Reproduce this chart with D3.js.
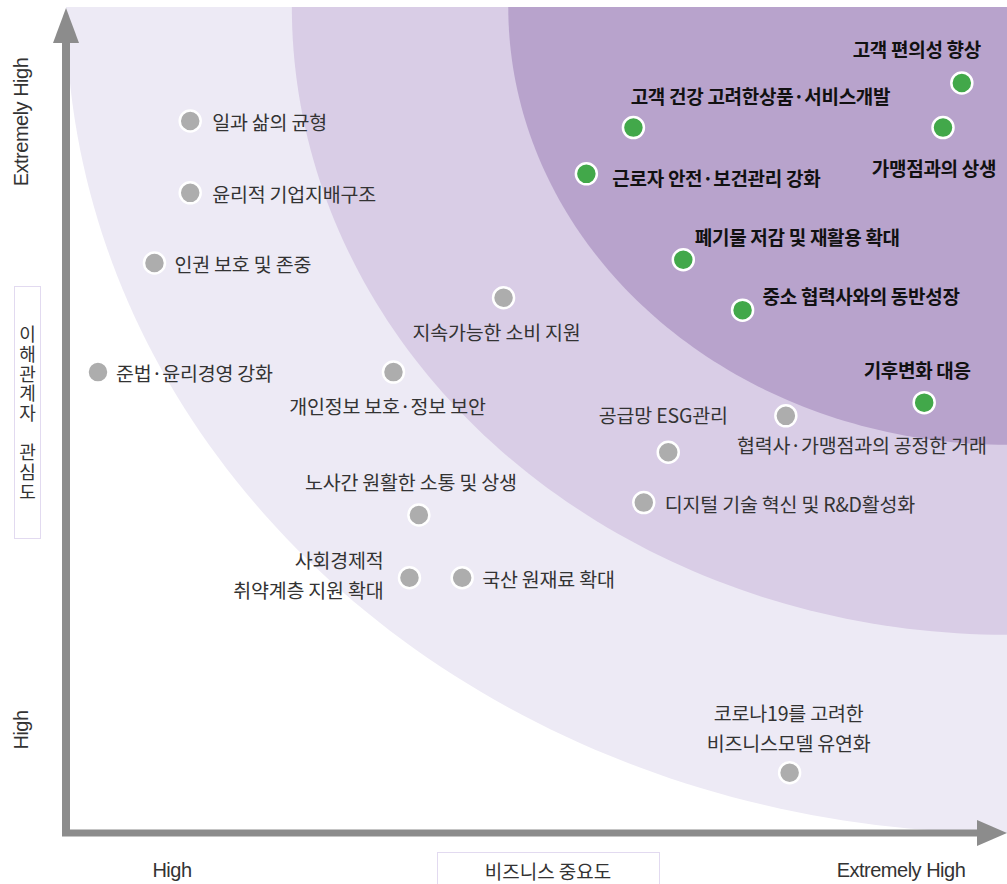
<!DOCTYPE html>
<html>
<head>
<meta charset="utf-8">
<script src="https://cdn.jsdelivr.net/npm/d3@7"></script>
<style>
  html, body { margin: 0; padding: 0; background: #fff; }
  svg { display: block; }
  .lbl { font-family: "Noto Sans CJK KR", "Noto Sans", sans-serif; font-size: 19.5px; fill: #333; letter-spacing: -0.2px; }
  .lbl.key { font-weight: bold; font-size: 19px; fill: #111; letter-spacing: -0.3px; }
  .axlbl { font-family: "Liberation Sans", Arial, sans-serif; font-size: 20px; fill: #333; letter-spacing: -0.5px; }
  .ttl { font-family: "Noto Sans CJK KR", sans-serif; font-size: 18px; fill: #333; }
  .vttl { writing-mode: vertical-rl; text-orientation: upright; letter-spacing: 1.7px; }
</style>
</head>
<body>
<div id="chart"></div>
<script>
// scores on a 0–100 scale (x: business importance, y: stakeholder interest)
const issues = [
  "일과 삶의 균형", "윤리적 기업지배구조", "인권 보호 및 존중", "준법·윤리경영 강화",
  "지속가능한 소비 지원", "개인정보 보호·정보 보안", "공급망 ESG관리",
  "협력사·가맹점과의 공정한 거래", "디지털 기술 혁신 및 R&D활성화",
  "노사간 원활한 소통 및 상생", "사회경제적\n취약계층 지원 확대", "국산 원재료 확대",
  "코로나19를 고려한\n비즈니스모델 유연화",
  "고객 편의성 향상", "고객 건강 고려한상품·서비스개발", "가맹점과의 상생",
  "근로자 안전·보건관리 강화", "폐기물 저감 및 재활용 확대",
  "중소 협력사와의 동반성장", "기후변화 대응"
];
const businessScore = [13.2, 13.2, 9.4, 3.4, 46.5, 34.8, 64.0, 76.5, 61.4, 37.5, 36.5, 42.1, 76.9,
                       95.2, 60.3, 93.2, 55.3, 65.6, 71.9, 91.2];
const stakeholderScore = [86.2, 77.5, 69.0, 55.8, 64.8, 55.8, 46.1, 50.5, 40.0, 38.5, 30.9, 30.9, 7.3,
                          90.8, 85.4, 85.4, 79.8, 69.4, 63.3, 52.1];
const isMaterial = [false, false, false, false, false, false, false, false, false, false, false, false, false,
                    true, true, true, true, true, true, true];
const bandRadii = [100, 76, 53];
const axisTicks = ["High", "Extremely High"];

// label placement (offset from the marker, text anchor)
const labelPlace = [
  [22, 0, "start"], [22, 0, "start"], [20, 0, "start"], [18, 0, "start"],
  [-7, 33, "middle"], [-6, 33, "middle"], [-5, -38, "middle"],
  [76, 28, "middle"], [21, 0, "start"],
  [-8, -34, "middle"], [-26, -19, "end"], [20, 0, "start"],
  [-1, -61, "middle"],
  [-45, -35, "middle"], [127, -33, "middle"], [-9, 39, "middle"],
  [26, 3, "start"], [114, -24, "middle"],
  [20, -15, "start"], [-7, -34, "middle"]
];

const width = 1007, height = 884;
const svg = d3.select("#chart").append("svg")
  .attr("width", width).attr("height", height);

const xScale = d3.scaleLinear().domain([0, 100]).range([66, 1007]);
const yScale = d3.scaleLinear().domain([0, 100]).range([833, 7]);

// importance bands: quarter rings around the top-right corner
const bandColors = ["#edeaf5", "#d9cde6", "#b8a3cc"];
const bandLine = d3.line().x(d => xScale(d[0])).y(d => yScale(d[1]));
bandRadii.forEach((r, i) => {
  const pts = [[100, 100]];
  for (let a = 0; a <= 90; a += 1) {
    const t = a * Math.PI / 180;
    pts.push([100 - r * Math.cos(t), 100 - r * Math.sin(t)]);
  }
  pts.push([100, 100]);
  svg.append("path")
    .attr("d", bandLine(pts) + "Z")
    .attr("fill", bandColors[i]);
});

// axes with arrowheads
const axisColor = "#8c8c8c";
svg.append("line")
  .attr("x1", xScale(0)).attr("y1", yScale(0) + 3)
  .attr("x2", xScale(0)).attr("y2", 40)
  .attr("stroke", axisColor).attr("stroke-width", 8);
svg.append("path")
  .attr("d", `M${xScale(0) - 13},43 L${xScale(0)},8 L${xScale(0) + 13},43 Z`)
  .attr("fill", axisColor);
svg.append("line")
  .attr("x1", xScale(0) - 4).attr("y1", yScale(0))
  .attr("x2", 980).attr("y2", yScale(0))
  .attr("stroke", axisColor).attr("stroke-width", 7);
svg.append("path")
  .attr("d", `M977,${yScale(0) - 13} L1007,${yScale(0)} L977,${yScale(0) + 13} Z`)
  .attr("fill", axisColor);

// axis end labels
svg.append("text").attr("class", "axlbl")
  .attr("transform", "translate(28,122) rotate(-90)")
  .attr("text-anchor", "middle").text(axisTicks[1]);
svg.append("text").attr("class", "axlbl")
  .attr("transform", "translate(28,730) rotate(-90)")
  .attr("text-anchor", "middle").text(axisTicks[0]);
svg.append("text").attr("class", "axlbl")
  .attr("x", 172).attr("y", 877).attr("text-anchor", "middle").text(axisTicks[0]);
svg.append("text").attr("class", "axlbl")
  .attr("x", 901).attr("y", 877).attr("text-anchor", "middle").text(axisTicks[1]);

// axis titles in boxes
svg.append("rect").attr("x", 14.5).attr("y", 286.5).attr("width", 26).attr("height", 252)
  .attr("fill", "#fff").attr("stroke", "#e2daf0");
svg.append("text").attr("class", "ttl vttl")
  .attr("x", 27.5).attr("y", 414)
  .attr("text-anchor", "middle")
  .text("이해관계자 관심도");
svg.append("rect").attr("x", 437.5).attr("y", 852.5).attr("width", 222).attr("height", 34)
  .attr("fill", "#fff").attr("stroke", "#e2daf0");
svg.append("text").attr("class", "ttl")
  .attr("x", 548).attr("y", 870).attr("text-anchor", "middle")
  .attr("dominant-baseline", "central").style("font-size", "19px").text("비즈니스 중요도");

// markers + labels
const data = issues.map((name, i) => ({
  name, x: businessScore[i], y: stakeholderScore[i], key: isMaterial[i], place: labelPlace[i]
}));

const g = svg.append("g");
g.selectAll("circle").data(data).enter().append("circle")
  .attr("cx", d => xScale(d.x)).attr("cy", d => yScale(d.y))
  .attr("r", 10.5)
  .attr("fill", d => d.key ? "#42a84a" : "#adadad")
  .attr("stroke", "#fff").attr("stroke-width", 2.5);

data.forEach(d => {
  const lines = d.name.split("\n");
  const t = g.append("text")
    .attr("class", d.key ? "lbl key" : "lbl")
    .attr("text-anchor", d.place[2])
    .attr("dominant-baseline", "central");
  lines.forEach((ln, j) => {
    t.append("tspan")
      .attr("x", xScale(d.x) + d.place[0])
      .attr("y", yScale(d.y) + d.place[1] + j * 30)
      .text(ln);
  });
});
</script>
</body>
</html>
